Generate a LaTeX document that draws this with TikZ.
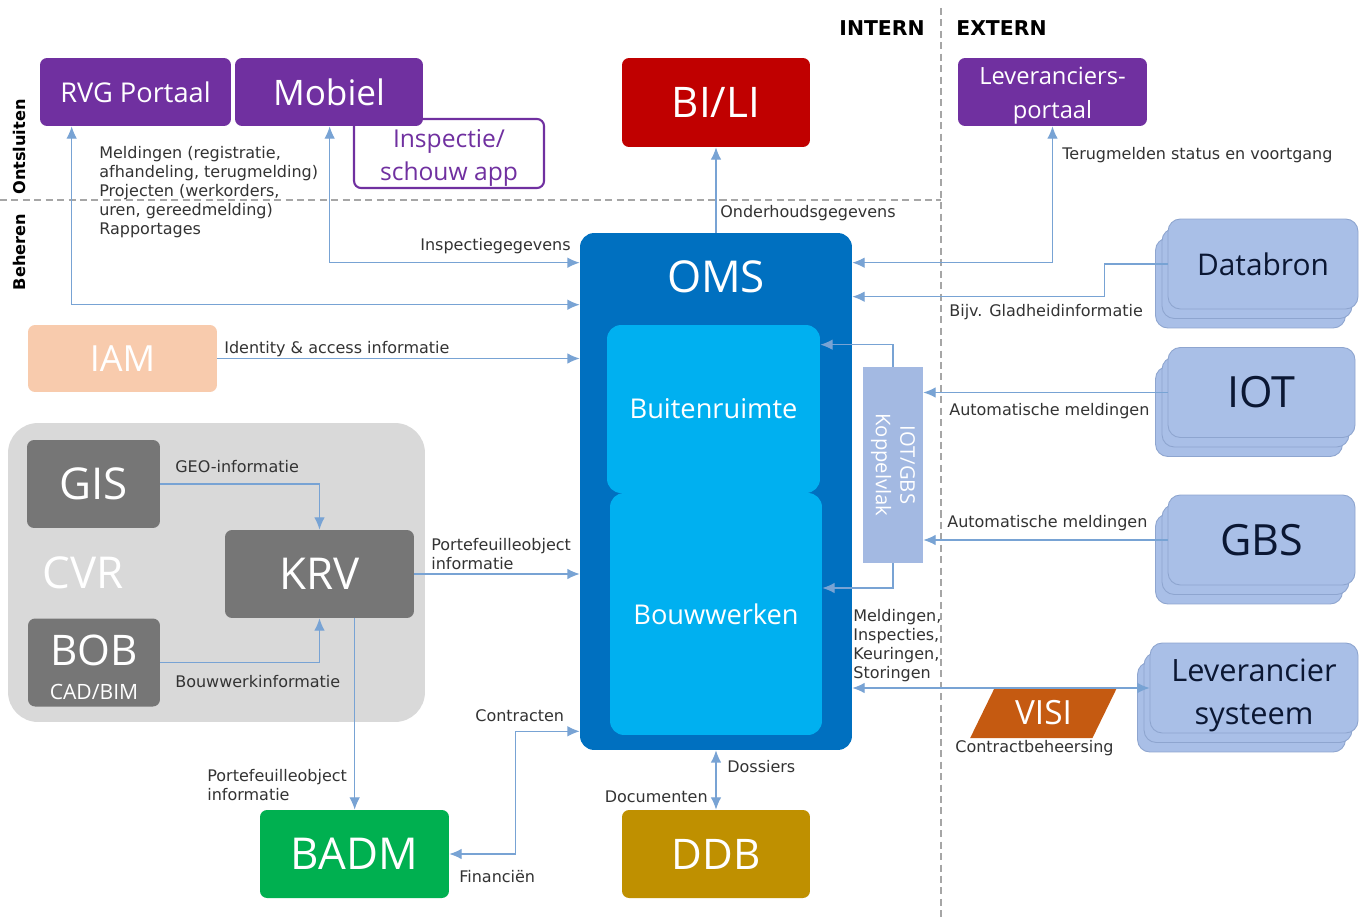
\documentclass[tikz,border=0pt]{standalone}
\usepackage{fontspec}
\usepackage{graphicx}
\setmainfont{DejaVu Sans}
\newfontfamily\boxfont{Open Sans}
\usetikzlibrary{positioning,arrows.meta,shapes.geometric,shadows}

\definecolor{cPurple}{HTML}{7030A0}
\definecolor{cRed}{HTML}{C00000}
\definecolor{cOMS}{HTML}{0070C0}
\definecolor{cInner}{HTML}{00B0F0}
\definecolor{cKoppel}{HTML}{A3B9E2}
\definecolor{cStack}{HTML}{A9BFE7}
\definecolor{cStackEdge}{HTML}{8EA5CF}
\definecolor{cStackText}{HTML}{0B1733}
\definecolor{cIAM}{HTML}{F8CBAD}
\definecolor{cCVR}{HTML}{D9D9D9}
\definecolor{cGray}{HTML}{767676}
\definecolor{cGreen}{HTML}{00B050}
\definecolor{cGold}{HTML}{BF9000}
\definecolor{cOrange}{HTML}{C55A11}
\definecolor{cArrow}{HTML}{78A3D4}
\definecolor{cLbl}{HTML}{333333}
\definecolor{cDash}{HTML}{A6A6A6}

\begin{document}
\begin{tikzpicture}
		[%%%%%%%%%%%%%%%%%%%%%%%%%%%%%%
		x=0.02cm, y=-0.02cm,
		>={Latex[length=7pt,width=6pt]},
		box/.style={rectangle, rounded corners=4pt, inner sep=0pt, align=center, text=white, font=\boxfont},
		txtsize/.style 2 args={font=\boxfont\fontsize{#1}{#2}\selectfont},
		purplebox/.style={box, fill=cPurple, minimum height=1.36cm},
		graybox/.style={box, fill=cGray, minimum height=1.76cm, txtsize={25}{30}},
		innerbox/.style={box, fill=cInner, rounded corners=8pt, txtsize={15.5}{19}},
		stackbox/.style={box, rounded corners=7pt, minimum height=1.8cm, fill=cStack, draw=cStackEdge, line width=0.5pt, text=cStackText,
			copy shadow={shadow xshift=-0.25cm, shadow yshift=-0.38cm, fill=cStack, draw=cStackEdge},
			copy shadow={shadow xshift=-0.12cm, shadow yshift=-0.19cm, fill=cStack, draw=cStackEdge}},
		flow/.style={draw=cArrow, line width=0.7pt, ->},
		flowboth/.style={flow, <->},
		lbl/.style={font=\fontsize{9.1}{10.8}\selectfont, text=cLbl, inner sep=0pt, align=left},
		hdr/.style={font=\bfseries\fontsize{11.6}{13}\selectfont, inner sep=0pt},
		side/.style={font=\bfseries\fontsize{9.2}{11}\selectfont, inner sep=0pt},
		divider/.style={draw=cDash, line width=0.8pt, dash pattern=on 4pt off 2.5pt},
		]%%%%%%%%%%%%%%%%%%%%%%%%%%%%%%
		
		\fill[white] (0,0) rectangle (1365,919);
		\useasboundingbox (0,0) rectangle (1365,919);
		
		% zones
		\draw[divider] (941,8) -- (941,919);
		\draw[divider] (0,200) -- (941,200);
		\node[hdr, anchor=east] (intern) at (925,28) {INTERN};
		\node[hdr, anchor=west] (extern) at (956,28) {EXTERN};
		\node[side, rotate=90] (ontsluiten) at (19,147) {Ontsluiten};
		\node[side, rotate=90] (beheren) at (19,252) {Beheren};
		
		% ontsluiten
		\node[purplebox, minimum width=3.82cm, txtsize={15.5}{18}] (rvg) at (135.5,92) {RVG Portaal};
		\node[box, fill=white, draw=cPurple, line width=1.2pt, text=cPurple, minimum width=3.8cm, minimum height=1.38cm, txtsize={14}{19}] (inspectie) at (449,153.5) {\rule{0pt}{15pt}Inspectie/\\schouw app};
		\node[purplebox, minimum width=3.76cm, txtsize={20}{24}] (mobiel) at (329,92) {Mobiel};
		\node[box, fill=cRed, minimum width=3.76cm, minimum height=1.78cm, txtsize={24}{28}] (bili) at (716,102.5) {BI/LI};
		\node[purplebox, minimum width=3.78cm, txtsize={13.5}{19}] (levportaal) at (1052.5,92) {\rule{0pt}{14pt}Leveranciers-\\portaal};
		
		% OMS
		\node[box, fill=cOMS, rounded corners=8pt, minimum width=5.44cm, minimum height=10.34cm] (oms) at (716,491.5) {};
		\node[box, txtsize={25}{30}] (omstitle) at (716,277) {OMS};
		\node[innerbox, minimum width=4.24cm, minimum height=4.84cm] (bouw) at (716,614) {Bouwwerken};
		\node[innerbox, minimum width=4.26cm, minimum height=3.36cm] (buiten) at (713.5,409) {Buitenruimte};
		\node[box, fill=cKoppel, rounded corners=0pt, minimum width=1.2cm, minimum height=3.92cm, txtsize={11.5}{14}] (koppel) at (893,465)
			{\rotatebox{-90}{\begin{tabular}{@{}c@{}}IOT/GBS\\Koppelvlak\end{tabular}}};
		
		% extern
		\foreach \nm/\px/\py/\w/\fs/\txt in {databron/1263/264/3.8/17/Databron, iot/1261.5/392.5/3.74/24.5/IOT,
				gbs/1261.5/540/3.74/24.5/GBS, levsys/1254/688/4.16/17.5/{\rule{0pt}{21pt}Leverancier\\systeem}}
			\node[stackbox, minimum width=\w cm, txtsize={\fs}{24.5}] (\nm) at (\px,\py) {\txt};
		\node[trapezium, trapezium left angle=60, trapezium right angle=120, trapezium stretches=true, fill=cOrange,
			minimum width=2.94cm, minimum height=1cm, inner sep=0pt, text=white, txtsize={19}{22}] (visi) at (1043.5,713) {VISI};
		
		% beheren
		\node[box, fill=cIAM, minimum width=3.78cm, minimum height=1.34cm, txtsize={20.5}{24}] (iam) at (122.5,358.5) {IAM};
		\node[box, fill=cCVR, rounded corners=0.6cm, minimum width=8.34cm, minimum height=5.98cm] (cvr) at (216.5,572.5) {};
		\node[box, txtsize={25}{30}] (cvrtitle) at (83,573) {CVR};
		\node[graybox, minimum width=2.66cm] (gis) at (93.5,484) {GIS};
		\node[graybox, minimum width=3.78cm] (krv) at (319.5,574) {KRV};
		\node[graybox, minimum width=2.64cm, txtsize={24}{19.4}] (bob) at (94,662.5) {\rule{0pt}{23pt}BOB\\{\fontsize{12}{19.4}\selectfont CAD/BIM}};
		\node[box, fill=cGreen, minimum width=3.78cm, minimum height=1.76cm, txtsize={25}{30}] (badm) at (354.5,854) {BADM};
		\node[box, fill=cGold, minimum width=3.76cm, minimum height=1.76cm, txtsize={24}{30}] (ddb) at (716,854) {DDB};
		
		% connectors
		\draw[flowboth] ([shift={(32,0)}]rvg.south west) |- ([shift={(0,72)}]oms.north west);
		\draw[flowboth] ([shift={(95,0)}]mobiel.south west) |- ([shift={(0,30)}]oms.north west);
		\draw[flow] (oms.north -| bili.south) -- (bili.south);
		\draw[flowboth] ([shift={(0,30)}]oms.north east) -| (levportaal.south);
		\draw[flow] (databron.west) -- ++(-63,0) |- ([shift={(0,64)}]oms.north east);
		\draw[flow] (iam.east) -- (iam.east -| oms.west);
		\draw[flow] (gis.east) -| (krv.north);
		\draw[flow] (bob.east) -| (krv.south);
		\draw[flow] (krv.east) -- (krv.east -| oms.west);
		\draw[flow] ([shift={(130,0)}]krv.south west) -- ([shift={(95,0)}]badm.north west);
		\draw[flowboth] (badm.east) -- ++(66,0) |- ([shift={(0,-19)}]oms.south west);
		\draw[flowboth] (oms.south) -- (ddb.north);
		\draw[flow] (iot.west) -- (iot.west -| koppel.east);
		\draw[flow] (gbs.west) -- (gbs.west -| koppel.east);
		\draw[flow] (koppel.north) |- ([shift={(0,20)}]buiten.north east);
		\draw[flow] (koppel.south) |- ([shift={(0,-26)}]bouw.east);
		\draw[flowboth] (levsys.west -| oms.east) -- (levsys.west);
		
		% labels
		\node[lbl, anchor=north west] (meldlbl) at (99,146) {Meldingen (registratie,\\afhandeling, terugmelding)\\Projecten (werkorders,\\uren, gereedmelding)\\Rapportages};
		\node[lbl, anchor=west] (inspgeglbl) at (420,246) {Inspectiegegevens};
		\node[lbl, anchor=west] (onderhoudlbl) at (720,213) {Onderhoudsgegevens};
		\node[lbl, anchor=west] (terugmeldlbl) at (1062,155) {Terugmelden status en voortgang};
		\node[lbl, anchor=west] (gladlbl) at (949,312) {Bijv. Gladheidinformatie};
		\node[lbl, anchor=west] (iamlbl) at (224,349) {Identity \& access informatie};
		\node[lbl, anchor=west] (geolbl) at (175,467) {GEO-informatie};
		\node[lbl, anchor=west] (bouwinfolbl) at (175,682) {Bouwwerkinformatie};
		\node[lbl, anchor=west] (portlbl) at (431,554) {Portefeuilleobject\\informatie};
		\node[lbl, anchor=west] (portbadmlbl) at (207,785) {Portefeuilleobject\\informatie};
		\node[lbl, anchor=west] (contractlbl) at (475,716) {Contracten};
		\node[lbl, anchor=west] (financlbl) at (459,877) {Financiën};
		\node[lbl, anchor=west] (dossierlbl) at (727,767) {Dossiers};
		\node[lbl, anchor=east] (documentlbl) at (708,797) {Documenten};
		\node[lbl, anchor=west] (autoiotlbl) at (949,411) {Automatische meldingen};
		\node[lbl, anchor=west] (autogbslbl) at (947,523) {Automatische meldingen};
		\node[lbl, anchor=north west] (meldlevlbl) at (853,609) {Meldingen,\\Inspecties,\\Keuringen,\\Storingen};
		\node[lbl, anchor=west] (visilbl) at (955,748) {Contractbeheersing};
\end{tikzpicture}
\end{document}
